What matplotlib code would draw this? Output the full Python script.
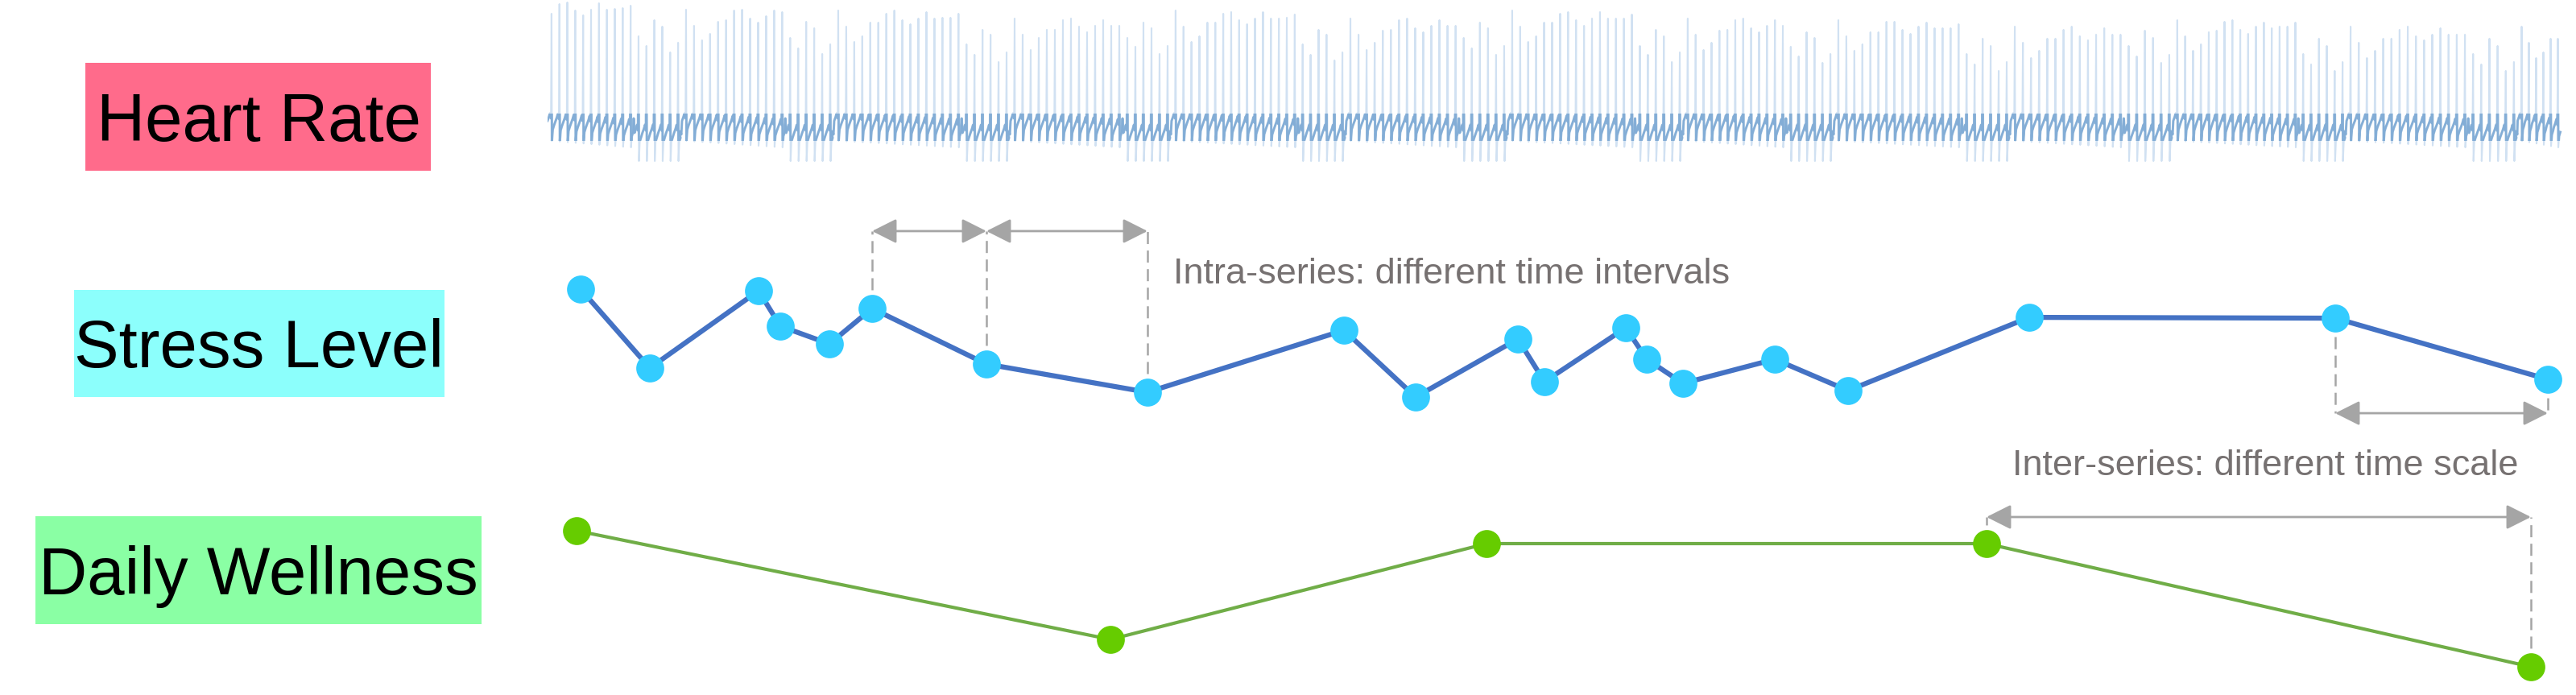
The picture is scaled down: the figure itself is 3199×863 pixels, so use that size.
import matplotlib
matplotlib.use("Agg")
import matplotlib.pyplot as plt
from matplotlib.patches import Rectangle, FancyArrowPatch, ArrowStyle

plt.rcParams["font.family"] = ["Liberation Sans", "DejaVu Sans"]
plt.rcParams["lines.scale_dashes"] = False

# ---------------- data ----------------
series_names = ["Heart Rate", "Stress Level", "Daily Wellness"]

# stress level samples (time, level 0-100)
stress_t = [41, 127, 262, 289, 350, 403, 545, 745, 989, 1078, 1205, 1238,
            1339, 1365, 1410, 1524, 1615, 1840, 2220, 2484]
stress_v = [88.8, 31.2, 87.6, 61.8, 48.8, 74.7, 34.1, 13.5, 58.8, 10.0, 52.4,
            21.2, 60.6, 37.6, 20.0, 37.6, 14.7, 68.2, 67.6, 22.9]

# daily wellness samples (time, score 0-10)
well_t = [36, 699, 1166, 1787, 2463]
well_v = [9.05, 2.3, 8.25, 8.25, 0.6]

# heart rate (ECG) windows: start / end time, R-peak heights (mV) per beat
hr_win_start = [0, 167, 356, 575, 775, 992, 1193, 1411, 1598, 1817, 2019, 2234, 2447]
hr_win_end = [167, 356, 575, 775, 992, 1193, 1411, 1598, 1817, 2019, 2234, 2447, 2501]
hr_upper = [
    [1.38, 1.50, 1.52, 1.42, 1.36, 1.43, 1.51, 1.43, 1.44, 1.45, 1.48],
    [1.43, 1.23, 1.05, 1.13, 1.28, 1.30, 1.42, 1.43, 1.32, 1.27, 1.35, 1.42, 1.40],
    [1.42, 1.22, 1.03, 1.10, 1.27, 1.27, 1.38, 1.42, 1.30, 1.25, 1.32, 1.40, 1.32, 1.33, 1.33, 1.38],
    [1.32, 1.12, 0.93, 1.08, 1.18, 1.18, 1.30, 1.32, 1.22, 1.15, 1.23, 1.30, 1.23, 1.23],
    [1.42, 1.22, 1.03, 1.10, 1.27, 1.27, 1.38, 1.40, 1.30, 1.25, 1.32, 1.40, 1.32, 1.32, 1.33, 1.37],
    [1.32, 1.12, 0.93, 1.02, 1.17, 1.18, 1.30, 1.32, 1.20, 1.15, 1.23, 1.30, 1.23, 1.23],
    [1.42, 1.22, 1.03, 1.10, 1.27, 1.27, 1.38, 1.40, 1.30, 1.23, 1.32, 1.40, 1.32, 1.32, 1.32, 1.37],
    [1.32, 1.12, 0.93, 1.02, 1.17, 1.18, 1.30, 1.32, 1.20, 1.15, 1.23, 1.30, 1.23],
    [1.30, 1.10, 0.92, 1.00, 1.15, 1.15, 1.28, 1.28, 1.18, 1.13, 1.22, 1.27, 1.20, 1.20, 1.20, 1.25],
    [1.22, 1.02, 0.83, 0.92, 1.07, 1.07, 1.18, 1.22, 1.10, 1.05, 1.12, 1.20, 1.12, 1.12],
    [1.30, 1.10, 0.92, 1.00, 1.15, 1.17, 1.28, 1.30, 1.18, 1.13, 1.22, 1.27, 1.20, 1.22, 1.22, 1.27],
    [1.22, 1.02, 0.83, 0.92, 1.07, 1.07, 1.18, 1.22, 1.10, 1.05, 1.12, 1.20, 1.12, 1.12, 1.12],
    [1.22, 1.02, 0.83, 0.90, 1.07, 1.07],
]
hr_lower = [
    [1.10, 0.98, 1.30, 1.22, 0.90, 1.02],
    [1.08, 0.95, 1.28, 1.20, 0.88, 1.00],
    [1.00, 0.87, 1.18, 1.12, 0.78, 0.90],
    [1.08, 0.97, 1.27, 1.20, 0.88, 0.98],
    [1.00, 0.87, 1.18, 1.12, 0.80, 0.90],
    [1.08, 0.95, 1.27, 1.20, 0.87, 0.98],
    [0.98, 0.87, 1.18, 1.10, 0.78, 0.90],
    [0.97, 0.85, 1.15, 1.08, 0.77, 0.88],
    [0.88, 0.75, 1.07, 0.98, 0.67, 0.78],
    [0.98, 0.85, 1.17, 1.08, 0.77, 0.87],
    [0.88, 0.75, 1.07, 0.98, 0.67, 0.78],
    [0.88, 0.75, 1.07, 0.98, 0.67, 0.78],
    [],
]
hr_base_upper = (0.05, -0.03)   # baseline drift over the first part of a window
hr_base_lower = -0.10
hr_s_upper, hr_s_lower = -0.25, -0.35   # S-wave depth
hr_bump = 0.18

# one beat: offsets around the R peak and wave values above baseline
beat_dt = [-5.0, -3.2, -1.8, -0.7]
beat_dv = [0.0, 0.05, 0.10, 0.03]
tail_dt = [1.5, 3.0]
tail_dv = [-0.11, -0.06]
# small dense wobble that closes each window
blob_dt = [-4.0, -3.0, -2.0, -1.0]
blob_dv = [0.02, -0.03, 0.02, -0.02]

# ---------------- build ECG trace ----------------
hr_t, hr_v = [], []
for start, end, up, lo in zip(hr_win_start, hr_win_end, hr_upper, hr_lower):
    peaks = up + lo
    step = (end - start) / len(peaks)
    for i, r in enumerate(peaks):
        tb = start + (i + 0.5) * step
        if i < len(up):
            frac = i / max(len(up) - 1, 1)
            base = hr_base_upper[0] + (hr_base_upper[1] - hr_base_upper[0]) * frac
            s = hr_s_upper
        else:
            base = hr_base_lower
            s = hr_s_lower
        if i == len(up) and lo:
            hr_t.append(tb - 6.0)
            hr_v.append(base + hr_bump)
        for dt, dv in zip(beat_dt, beat_dv):
            hr_t.append(tb + dt)
            hr_v.append(base + dv)
        hr_t += [tb, tb + 0.5]
        hr_v += [r, base + s]
        for dt, dv in zip(tail_dt, tail_dv):
            hr_t.append(tb + dt)
            hr_v.append(base + dv)
    if lo:
        for dt, dv in zip(blob_dt, blob_dv):
            hr_t.append(end + dt)
            hr_v.append(hr_base_lower + dv)

# ---------------- layout ----------------
W, H = 3199, 863
fig = plt.figure(figsize=(W / 100, H / 100), dpi=100)
fig.patch.set_facecolor("white")


def fig_rect(x0, y0, x1, y1):
    return [x0 / W, 1 - y1 / H, (x1 - x0) / W, (y1 - y0) / H]


ax_hr = fig.add_axes(fig_rect(680, 0, W, 215))
ax_st = fig.add_axes(fig_rect(680, 340, W, 510))
ax_wl = fig.add_axes(fig_rect(680, 640, W, 840))
for ax in (ax_hr, ax_st, ax_wl):
    ax.set_xlim(0, W - 680)
    ax.axis("off")
    ax.patch.set_alpha(0)
ax_hr.set_ylim(-0.6, 1.55)
ax_st.set_ylim(0, 100)
ax_wl.set_ylim(0, 10)

# heart rate: faint trace plus darker slow-wave band around the baseline
ax_hr.plot(hr_t, hr_v, color="#c2d8ee", lw=1.5, alpha=0.75)
dark, = ax_hr.plot(hr_t, hr_v, color="#4f8bc4", lw=2.2, alpha=0.6)
band = Rectangle((0, -0.2), W, 0.34, transform=ax_hr.transData)
dark.set_clip_path(band)

# stress level
ax_st.plot(stress_t, stress_v, color="#4472C4", lw=4.5, zorder=2, clip_on=False)
ax_st.plot(stress_t, stress_v, "o", ms=25, mfc="#33CCFF", mec="none", zorder=3, clip_on=False)

# daily wellness
ax_wl.plot(well_t, well_v, color="#70AD47", lw=3.0, zorder=2, clip_on=False)
ax_wl.plot(well_t, well_v, "o", ms=25, mfc="#66CC00", mec="none", zorder=3, clip_on=False)

# label boxes
label_boxes = [(106, 78, 535, 212, 175, "#FF6B8B"),
               (92, 360, 552, 493, 456, "#8CFFFC"),
               (44, 641, 598, 775, 738, "#8AFFA4")]
for name, (x0, y0, x1, y1, base, col) in zip(series_names, label_boxes):
    fig.add_artist(Rectangle((x0 / W, 1 - y1 / H), (x1 - x0) / W, (y1 - y0) / H,
                             transform=fig.transFigure, facecolor=col, edgecolor="none"))
    fig.text(321 / W, 1 - base / H, name, ha="center", va="baseline",
             fontsize=60, color="black")

# annotations
grey = "#A5A5A5"
style = ArrowStyle("<|-|>", head_length=18.7, head_width=9.4)


def arrow(ax, xa, xb, y):
    ax.add_patch(FancyArrowPatch((xa, y), (xb, y), arrowstyle=style, mutation_scale=1,
                                 shrinkA=0, shrinkB=0, color=grey, lw=2.0,
                                 clip_on=False, zorder=1))


def guide(ax, x, ya, yb):
    ax.plot([x, x], [ya, yb], color=grey, lw=1.8, dashes=(10.8, 5.8),
            zorder=1, clip_on=False)


intra_y = 131.2
for i in (5, 6, 7):
    guide(ax_st, stress_t[i], stress_v[i], intra_y)
arrow(ax_st, stress_t[5], stress_t[6], intra_y)
arrow(ax_st, stress_t[6], stress_t[7], intra_y)
ax_st.text(777, 92.9, "Intra-series: different time intervals", fontsize=32.5,
           color="#767171", ha="left", va="baseline", clip_on=False)

inter_y = -1.8
for i in (18, 19):
    guide(ax_st, stress_t[i], stress_v[i], inter_y)
arrow(ax_st, stress_t[18], stress_t[19], inter_y)

well_y = 9.9
for i in (3, 4):
    guide(ax_wl, well_t[i], well_v[i], well_y)
arrow(ax_wl, well_t[3], well_t[4], well_y)
ax_st.text(1819, -47, "Inter-series: different time scale", fontsize=32.5,
           color="#767171", ha="left", va="baseline", clip_on=False)

fig.savefig("out.png", dpi=100, facecolor="white")
